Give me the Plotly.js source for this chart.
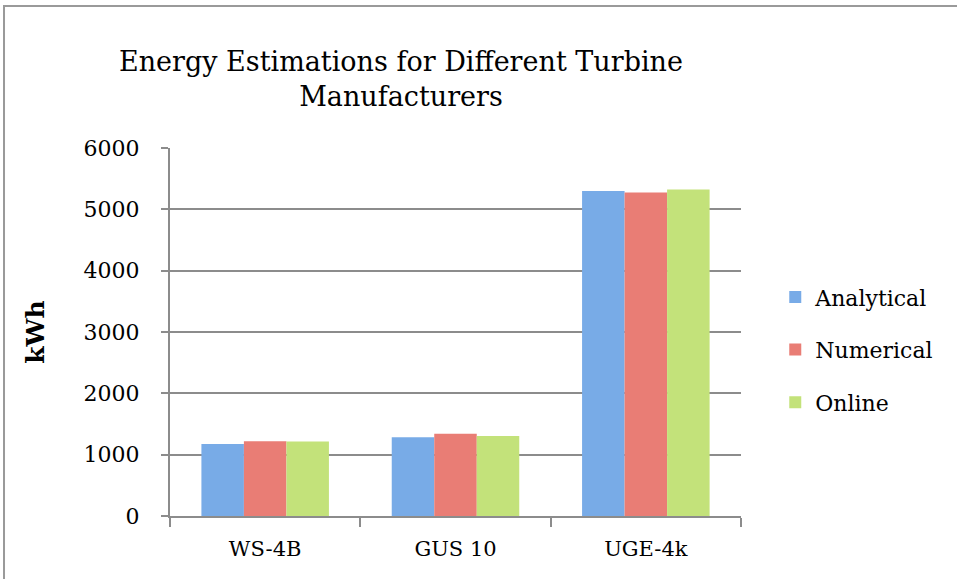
<!DOCTYPE html>
<html>
<head>
<meta charset="utf-8">
<script src="https://cdn.plot.ly/plotly-3.0.1.min.js"></script>
<style>
  html, body { margin: 0; padding: 0; background: #ffffff; }
  #chart { width: 957px; height: 579px; }
</style>
</head>
<body>
<div id="chart"></div>
<script>
const categories = ["WS-4B", "GUS 10", "UGE-4k"];
const seriesNames = ["Analytical", "Numerical", "Online"];
const analytical = [1175, 1285, 5300];
const numerical = [1220, 1340, 5275];
const online = [1215, 1305, 5325];
const yTicks = [0, 1000, 2000, 3000, 4000, 5000, 6000];

const colors = ["#78abe7", "#e97d75", "#c3e27a"];
const values = [analytical, numerical, online];
const serif = "DejaVu Serif, serif";

const traces = seriesNames.map((name, i) => ({
  type: "bar",
  name: name,
  x: categories,
  y: values[i],
  legendgroup: "g" + i,
  marker: { color: colors[i], line: { width: 0 } },
  hoverinfo: "x+y+name"
}));

const layout = {
  width: 957,
  height: 579,
  margin: { l: 170, r: 216, t: 148, b: 63 },
  paper_bgcolor: "#ffffff",
  plot_bgcolor: "#ffffff",
  barmode: "group",
  bargap: 0.33,
  bargroupgap: 0,
  font: { family: serif, color: "#000000", size: 21 },
  title: {
    text: "Energy Estimations for Different Turbine<br>Manufacturers",
    font: { family: serif, size: 27, color: "#000000", lineposition: "none" },
    xref: "container",
    x: 0.419,
    xanchor: "center",
    yref: "container",
    y: 0.8774,
    yanchor: "middle"
  },
  xaxis: {
    type: "category",
    tickson: "boundaries",
    ticks: "outside",
    ticklen: 9,
    tickwidth: 2,
    tickcolor: "#8c8c8c",
    showgrid: false,
    showline: true,
    linecolor: "#8c8c8c",
    linewidth: 2,
    ticklabelstandoff: 13,
    tickfont: { family: serif, size: 21, color: "#000000" },
    fixedrange: true
  },
  yaxis: {
    range: [0, 6000],
    tickmode: "array",
    tickvals: yTicks,
    ticktext: yTicks.map(String),
    ticks: "outside",
    ticklen: 7,
    tickwidth: 2,
    tickcolor: "#8c8c8c",
    showgrid: true,
    gridcolor: "#8c8c8c",
    gridwidth: 2,
    zeroline: false,
    showline: true,
    linecolor: "#8c8c8c",
    linewidth: 2,
    ticklabelstandoff: 17,
    tickfont: { family: serif, size: 22, color: "#000000" },
    title: {
      text: "<b>kWh</b>",
      font: { family: serif, size: 25, color: "#000000" },
      standoff: 32
    },
    fixedrange: true
  },
  legend: {
    x: 1.06,
    xanchor: "left",
    y: 0.452,
    yanchor: "middle",
    traceorder: "grouped",
    tracegroupgap: 21,
    font: { family: serif, size: 22, color: "#000000" },
    bgcolor: "rgba(0,0,0,0)"
  },
  shapes: [{
    type: "rect",
    xref: "paper", yref: "paper",
    x0: -0.2907, x1: 1.40,
    y0: -0.2, y1: 1.3859,
    line: { color: "#9a9a9a", width: 2 },
    fillcolor: "rgba(0,0,0,0)",
    layer: "below"
  }]
};

Plotly.newPlot("chart", traces, layout, { displayModeBar: false, staticPlot: true });
</script>
</body>
</html>
